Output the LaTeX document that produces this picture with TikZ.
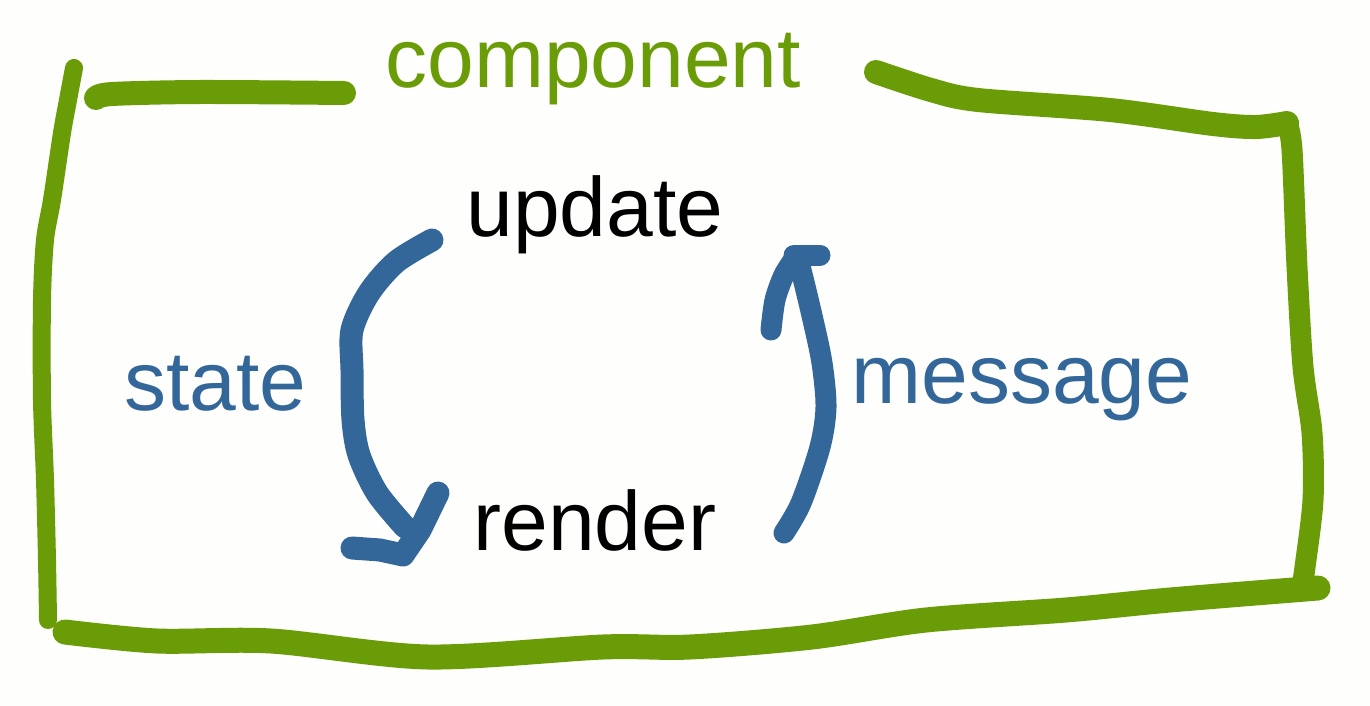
\documentclass[tikz,border=0pt]{standalone}
\usepackage{fontspec}
\setmainfont{Liberation Sans}
\definecolor{cgreen}{RGB}{106,156,8}
\definecolor{cblue}{RGB}{51,102,153}
\definecolor{bgc}{RGB}{254,254,252}
\begin{document}
\begin{tikzpicture}[x=0.5pt,y=-0.5pt,
  gstroke/.style={draw=cgreen,line cap=round,line join=round,line width=#1},
  bstroke/.style={draw=cblue,line cap=round,line join=round,line width=#1},
  lbl/.style={inner sep=0pt,anchor=base west,font=\fontsize{42}{50}\selectfont}]
\fill[bgc] (0,0) rectangle (1370,706);
\useasboundingbox (0,0) rectangle (1370,706);
% frame
\draw[gstroke=9pt] plot[smooth,tension=0.5] coordinates {(74,68) (68,100) (62,133) (52,200) (45,240) (42,300) (42,400) (45,480) (47,560) (48,620)};
\draw[gstroke=12pt] plot[smooth,tension=0.5] coordinates {(96,98) (112,94) (200,92) (344,93)};
\draw[gstroke=12pt] plot[smooth,tension=0.5] coordinates {(876,72) (931,90) (978,100) (1110,110) (1213,124) (1256,127) (1287,123)};
\draw[gstroke=10.5pt] plot[smooth,tension=0.5] coordinates {(1287,123) (1292,150) (1297,267) (1303,367) (1312,433) (1313,500) (1305,567) (1303,580)};
\draw[gstroke=12.5pt] plot[smooth,tension=0.5] coordinates {(65,632) (157,641) (271,641) (428,657) (603,647) (690,647) (812,637) (926,620) (1066,610) (1170,600) (1318,588)};
% labels
\node[lbl,text=cgreen] (component) at (385,88) {component};
\node[lbl] (update) at (466,236) {update};
\node[lbl] (render) at (473,550) {render};
\node[lbl,text=cblue] (state) at (124,410) {state};
\node[lbl,text=cblue] (message) at (851,403) {message};
% state arrow
\draw[bstroke=11.5pt] plot[smooth,tension=0.5] coordinates {(432,240) (396,262) (369,293) (352,330) (352,370) (353,420) (359,455) (377,493) (405,527)};
\draw[bstroke=11.5pt] (438,493) -- (420,530) -- (403,555) -- (380,550) -- (352,548);
% message arrow
\draw[bstroke=10.5pt] plot[smooth,tension=0.5] coordinates {(784,533) (801,503) (820,447) (826,407) (822,363) (813,320) (801,270) (797,258)};
\draw[bstroke=10.5pt] (794,255) -- (820,255);
\draw[bstroke=10.5pt] plot[smooth,tension=0.5] coordinates {(771,330) (775,300) (784,275) (795,258)};
\end{tikzpicture}
\end{document}
